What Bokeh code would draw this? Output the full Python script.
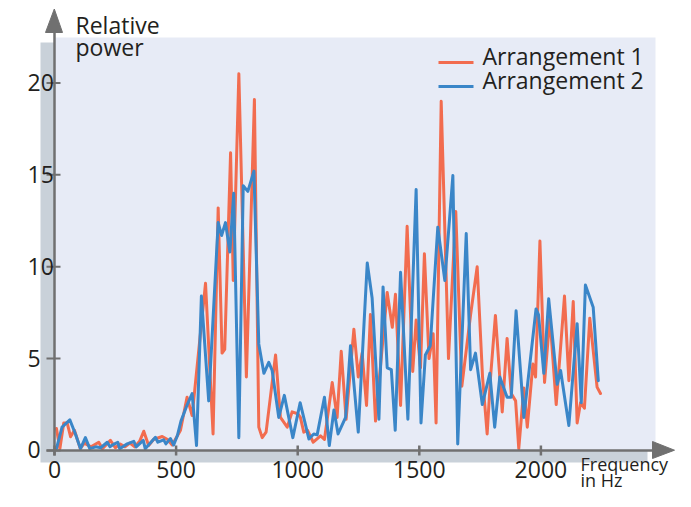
from bokeh.plotting import figure
from bokeh.models import Range1d
from bokeh.core.properties import value
from bokeh.embed import file_html
from bokeh.resources import INLINE

# ---------------- data ----------------
freq_a1 = [8, 22, 38, 52, 66, 82, 106, 123, 150, 182, 197, 230, 250, 270, 290, 310, 330, 350, 367, 387,
           407, 443, 465, 484, 518, 545, 566, 621, 652, 673, 689, 700, 724, 735, 758, 789, 822, 840,
           854, 870, 909, 929, 957, 977, 1000, 1011, 1025, 1040, 1064, 1094, 1110, 1142, 1162, 1179, 1199,
           1231, 1249, 1265, 1283, 1299, 1320, 1368, 1389, 1402, 1423, 1450, 1473, 1487, 1505, 1521, 1540,
           1557, 1569, 1590, 1620, 1650, 1675, 1711, 1738, 1760, 1779, 1793, 1813, 1841, 1861,
           1878, 1896, 1909, 1930, 1944, 1967, 1978, 1996, 2015, 2037, 2063, 2097, 2115, 2133, 2149, 2163,
           2179, 2201, 2231, 2245]
power_a1 = [1.2, 0.1, 1.5, 1.5, 0.75, 1.1, 0.1, 0.4, 0.2, 0.45, 0.1, 0.55, 0.15, 0.35, 0.2, 0.4, 0.2, 0.5, 1.05, 0.27,
            0.6, 0.76, 0.6, 0.3, 1.1, 2.9, 1.9, 9.1, 0.9, 13.2, 5.3, 5.5, 16.2, 9.25, 20.5, 4.0, 19.1, 1.27,
            0.7, 1.0, 5.2, 1.8, 1.27, 2.1, 2.0, 1.8, 1.0, 1.1, 0.45, 0.8, 0.6, 3.7, 1.8, 5.4, 1.7,
            6.6, 4.0, 5.3, 2.45, 7.4, 1.6, 8.6, 6.7, 8.5, 2.45, 12.2, 4.3, 7.1, 4.5, 10.7, 5.0,
            6.35, 1.5, 19.0, 5.0, 13.0, 3.5, 7.4, 10.0, 4.0, 0.9, 4.0, 7.35, 2.1, 6.1,
            3.1, 2.7, 0.1, 3.4, 1.27, 4.7, 4.0, 11.4, 3.7, 7.25, 2.5, 8.4, 3.8, 8.1, 1.5, 2.6,
            2.3, 7.2, 3.45, 3.1]

freq_a2 = [8, 31, 63, 86, 107, 127, 145, 170, 190, 217, 228, 245, 260, 268, 299, 326, 336, 365, 373, 415,
           425, 449, 458, 477, 490, 505, 520, 546, 566, 584, 604, 634, 673, 687, 703, 721, 737, 758, 776,
           795, 820, 840, 861, 881, 895, 922, 945, 980, 1010, 1046, 1066, 1080, 1110, 1130, 1149, 1166,
           1197, 1217, 1249, 1286, 1306, 1334, 1351, 1368, 1385, 1401, 1423, 1453, 1487, 1507, 1525, 1545,
           1576, 1605, 1638, 1658, 1693, 1711, 1731, 1759, 1790, 1810, 1831, 1861, 1878, 1898, 1930, 1980,
           1990, 2012, 2032, 2067, 2081, 2115, 2149, 2166, 2183, 2215, 2236]
power_a2 = [0.1, 1.27, 1.67, 0.9, 0.1, 0.7, 0.1, 0.2, 0.15, 0.45, 0.2, 0.35, 0.45, 0.1, 0.36, 0.5, 0.2, 0.55, 0.1, 0.72,
            0.45, 0.58, 0.36, 0.65, 0.3, 0.8, 1.6, 2.5, 3.1, 0.27, 8.4, 2.7, 12.4, 11.7, 12.4, 10.8, 14.0, 0.7, 14.4,
            14.1, 15.2, 5.8, 4.2, 4.8, 4.35, 1.8, 3.0, 0.7, 2.6, 0.63, 0.9, 0.85, 2.9, 0.27, 2.2, 0.9,
            1.8, 5.7, 1.0, 10.2, 8.3, 1.7, 8.9, 4.5, 4.4, 1.1, 9.7, 1.7, 14.2, 1.5, 5.2, 5.7,
            12.15, 9.25, 14.96, 0.36, 11.8, 4.4, 5.3, 2.5, 4.2, 1.27, 4.0, 2.9, 2.9, 7.6, 1.8, 7.7,
            7.4, 4.2, 8.25, 3.6, 4.35, 1.36, 6.9, 2.6, 9.0, 7.8, 3.8]

x_ticks = [0, 500, 1000, 1500, 2000]
x_tick_labels = ["0", "500", "1000", "1500", "2000"]
y_ticks = [0, 5, 10, 15, 20]
y_tick_labels = ["0", "5", "10", "15", "20"]
series_names = ["Arrangement 1", "Arrangement 2"]

# ---------------- geometry helpers (picture pixels -> data) ----------------
W, H = 675, 491
X0, SX = 54.0, 0.2432   # px of 0 Hz, px per Hz
Y0, SY = 450.0, 18.38   # px of value 0, px per unit


def hx(px):
    return (px - X0) / SX


def vy(py):
    return (Y0 - py) / SY


def vt(py, fs=23):
    # text renders about 0.37 em below its anchor
    return vy(py - 0.37 * fs)


ORANGE = "#f26c4f"
BLUE = "#3a86c8"
AXIS = "#707070"
TEXT = "#231f20"
FONT = value("Open Sans")
FS = value("23px")

p = figure(width=W, height=H, output_backend="svg", toolbar_location=None,
           x_range=Range1d(hx(0), hx(W)), y_range=Range1d(vy(H), vy(0)),
           min_border=0, outline_line_color=None, background_fill_color="white",
           border_fill_color="white")
p.xaxis.visible = False
p.yaxis.visible = False
p.xgrid.visible = False
p.ygrid.visible = False

# panel with shadow
p.quad(left=[hx(40)], right=[hx(647)], top=[vy(42)], bottom=[vy(462)],
       fill_color="#c9d1d9", line_color=None)
p.quad(left=[hx(54)], right=[hx(655)], top=[vy(37)], bottom=[vy(450)],
       fill_color="#e7ebf6", line_color=None)

# data lines
p.line(freq_a1, power_a1, line_width=3, line_color=ORANGE, line_join="round", line_cap="round")
p.line(freq_a2, power_a2, line_width=3, line_color=BLUE, line_join="round", line_cap="round")

# axes
p.segment(x0=[0, hx(46)], y0=[vy(455), 0], x1=[0, hx(654)], y1=[vy(30), 0],
          line_color=AXIS, line_width=2.5)
p.patches(xs=[[hx(45), hx(62), hx(53.8)], [hx(652), hx(652), hx(674)]],
          ys=[[vy(32), vy(32), vy(8.5)], [vy(441), vy(458), vy(449.7)]],
          fill_color=AXIS, line_color=AXIS, line_width=1)
# ticks
p.segment(x0=x_ticks, y0=[vy(455)] * len(x_ticks), x1=x_ticks, y1=[vy(445)] * len(x_ticks),
          line_color=AXIS, line_width=2.5)
p.segment(x0=[hx(46)] * len(y_ticks), y0=y_ticks, x1=[hx(60)] * len(y_ticks), y1=y_ticks,
          line_color=AXIS, line_width=2)

# tick labels
p.text(x=x_ticks, y=[vt(478)] * len(x_ticks), text=x_tick_labels, text_font=FONT,
       text_font_size=FS, text_color=TEXT, text_align="center", text_baseline="alphabetic")
p.text(x=[hx(27)] * len(y_ticks), y=[t + vt(Y0 + 8) for t in y_ticks], text=y_tick_labels,
       text_font=FONT, text_font_size=FS, text_color=TEXT, text_align="left",
       text_baseline="alphabetic")

# axis titles
p.text(x=[hx(75), hx(75)], y=[vt(33), vt(55)], text=["Relative", "power"], text_font=FONT,
       text_font_size=FS, text_color=TEXT, text_align="left", text_baseline="alphabetic")
p.text(x=[hx(580), hx(580)], y=[vt(470, 18), vt(486, 18)], text=["Frequency", "in Hz"],
       text_font=FONT, text_font_size=value("18px"), text_color=TEXT, text_align="left",
       text_baseline="alphabetic")

# legend
p.segment(x0=[hx(438), hx(438)], y0=[vy(62), vy(86)], x1=[hx(473), hx(473)], y1=[vy(62), vy(86)],
          line_color=[ORANGE, BLUE], line_width=3)
p.text(x=[hx(482), hx(482)], y=[vt(64), vt(88)], text=series_names, text_font=FONT,
       text_font_size=FS, text_color=TEXT, text_align="left", text_baseline="alphabetic")

open("out.html", "w").write(file_html(p, INLINE))
